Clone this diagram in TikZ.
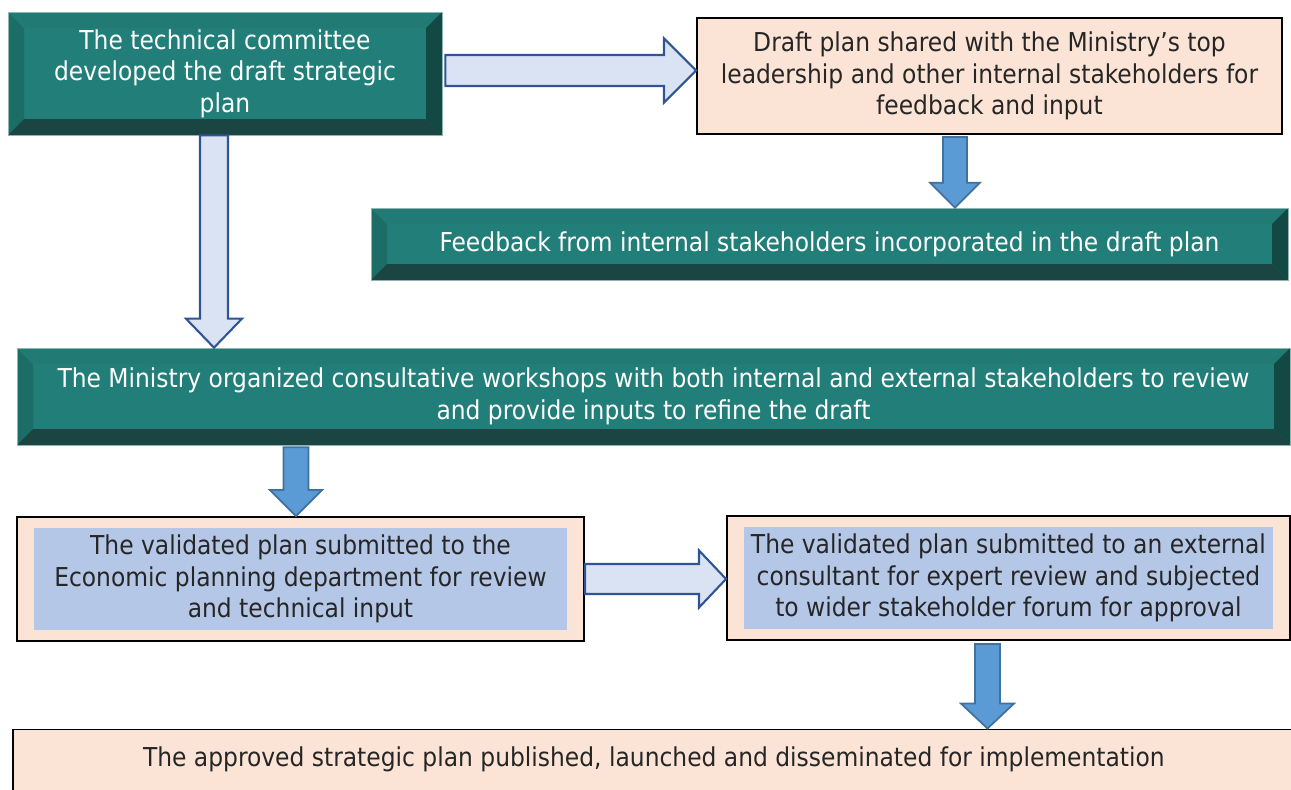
\documentclass[tikz,border=0pt]{standalone}
\usepackage{fontspec}
\setmainfont{DejaVu Sans Condensed}
\usepackage{tikz}
\usetikzlibrary{calc}
\definecolor{tealface}{HTML}{217E78}
\definecolor{tealtop}{HTML}{227A74}
\definecolor{tealleft}{HTML}{1D6D67}
\definecolor{tealright}{HTML}{134945}
\definecolor{tealbottom}{HTML}{1B4542}
\definecolor{tealrim}{HTML}{8FB5B2}
\definecolor{peach}{HTML}{FBE4D5}
\definecolor{paleblue}{HTML}{B4C7E7}
\definecolor{hollowfill}{HTML}{DAE3F3}
\definecolor{hollowline}{HTML}{2F5597}
\definecolor{solidfill}{HTML}{5B9BD5}
\definecolor{solidline}{HTML}{41719C}

\def\bv{0.32}

% block arrows: style, from, to, half shaft, half head, head length
\newcommand{\hblock}[6]{%
  \draw[#1] let \p1=(#2), \p2=(#3) in
    (\x1,\y1+#4) -- (\x2-#6,\y1+#4) -- (\x2-#6,\y1+#5) -- (\x2,\y1)
    -- (\x2-#6,\y1-#5) -- (\x2-#6,\y1-#4) -- (\x1,\y1-#4) -- cycle;}
\newcommand{\vblock}[6]{%
  \draw[#1] let \p1=(#2), \p2=(#3) in
    (\x1-#4,\y1) -- (\x1-#4,\y2+#6) -- (\x1-#5,\y2+#6) -- (\x1,\y2)
    -- (\x1+#5,\y2+#6) -- (\x1+#4,\y2+#6) -- (\x1+#4,\y1) -- cycle;}

\tikzset{
  txt/.style={font=\fontsize{14.8}{17.9}\selectfont, align=center, inner sep=0pt},
  bevelbox/.style={txt, rectangle, fill=tealface, draw=tealrim, line width=0.4pt,
    text=white,
    path picture={
      \path (path picture bounding box.south west) coordinate (bsw)
            (path picture bounding box.north east) coordinate (bne);
      \fill[tealleft] (bsw) -- (bsw|-bne) -- ($(bsw|-bne)+(\bv,-\bv)$)
        -- ($(bsw)+(\bv,\bv)$) -- cycle;
      \fill[tealtop] (bsw|-bne) -- (bne) -- ($(bne)+(-\bv,-\bv)$)
        -- ($(bsw|-bne)+(\bv,-\bv)$) -- cycle;
      \fill[tealright] (bne) -- (bne|-bsw) -- ($(bne|-bsw)+(-\bv,\bv)$)
        -- ($(bne)+(-\bv,-\bv)$) -- cycle;
      \fill[tealbottom] (bsw) -- (bne|-bsw) -- ($(bne|-bsw)+(-\bv,\bv)$)
        -- ($(bsw)+(\bv,\bv)$) -- cycle;
    }},
  peachbox/.style={txt, rectangle, fill=peach, draw=black, line width=1.1pt,
    text=black!85},
  insetbox/.style={peachbox,
    path picture={
      \fill[paleblue]
        ($(path picture bounding box.south west)+(0.34,0.22)$) rectangle
        ($(path picture bounding box.north east)+(-0.34,-0.22)$);
    }},
  hollow/.style={fill=hollowfill, draw=hollowline, line width=1.2pt},
  solid/.style={fill=solidfill, draw=solidline, line width=1pt},
}

\begin{document}
\begin{tikzpicture}

  \useasboundingbox (0,0) rectangle (25.82,-15.78);
  \clip (0,0) rectangle (25.82,-15.78);

  % ── Steps ───────────────────────────────────────────────────
  \node[bevelbox, minimum width=8.68cm, minimum height=2.46cm] (tc) at (4.50,-1.47)
    {The technical committee\\developed the draft strategic\\plan};
  \node[peachbox, minimum width=11.7cm, minimum height=2.32cm] (ds) at (19.79,-1.52)
    {Draft plan shared with the Ministry’s top\\leadership and other internal stakeholders for\\feedback and input};
  \node[bevelbox, minimum width=18.34cm, minimum height=1.44cm] (fb) at (16.59,-4.88)
    {Feedback from internal stakeholders incorporated in the draft plan};
  \node[bevelbox, minimum width=25.46cm, minimum height=1.94cm] (ws) at (13.07,-7.93)
    {The Ministry organized consultative workshops with both internal and external stakeholders to review\\and provide inputs to refine the draft};
  \node[insetbox, minimum width=11.34cm, minimum height=2.48cm] (vp) at (6.01,-11.58)
    {The validated plan submitted to the\\Economic planning department for review\\and technical input};
  \node[insetbox, minimum width=11.26cm, minimum height=2.48cm] (ec) at (20.17,-11.56)
    {The validated plan submitted to an external\\consultant for expert review and subjected\\to wider stakeholder forum for approval};
  \node[peachbox, minimum width=25.64cm, minimum height=1.3cm, text depth=0.22cm] (ap) at (13.08,-15.24)
    {The approved strategic plan published, launched and disseminated for implementation};

  % ── Connectors ──────────────────────────────────────────────
  \hblock{hollow}{$(tc.east)+(0.06,0.06)$}{ds.west}{0.31cm}{0.64cm}{0.64cm}
  \vblock{hollow}{$(tc.south)+(-0.22,0)$}{ws.north}{0.28cm}{0.56cm}{0.58cm}
  \vblock{solid}{$(ds.south)+(-0.69,-0.04)$}{fb.north}{0.24cm}{0.5cm}{0.5cm}
  \vblock{solid}{$(ws.south -| vp.north)+(-0.09,-0.04)$}{vp.north}{0.25cm}{0.52cm}{0.52cm}
  \hblock{hollow}{vp.east}{ec.west}{0.3cm}{0.57cm}{0.54cm}
  \vblock{solid}{$(ec.south)+(-0.42,-0.06)$}{ap.north}{0.25cm}{0.53cm}{0.5cm}

\end{tikzpicture}
\end{document}
